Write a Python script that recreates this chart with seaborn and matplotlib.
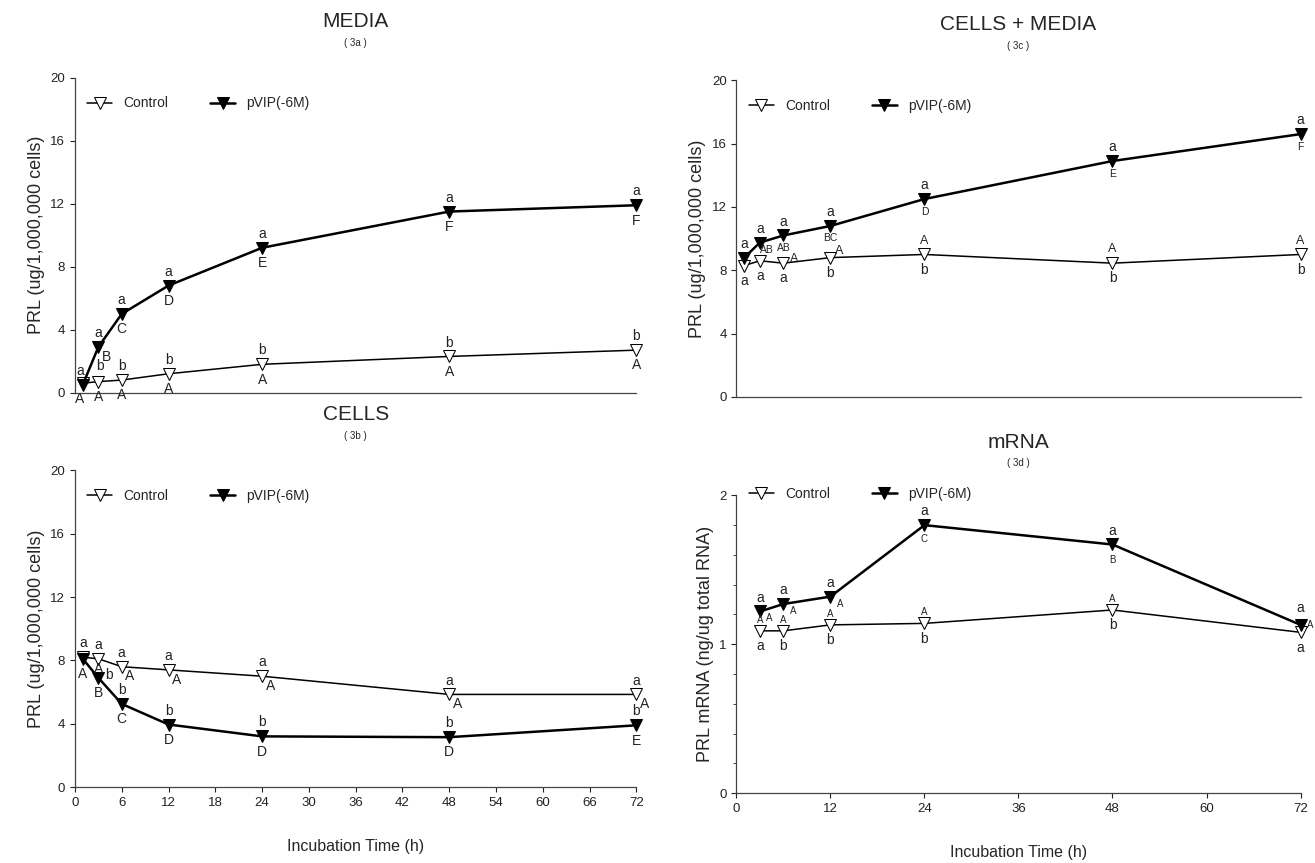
import numpy as np
import pandas as pd
import matplotlib
matplotlib.use("Agg")
import matplotlib.pyplot as plt
import seaborn as sns

# --- data ---
time = [1, 3, 6, 12, 24, 48, 72]
media_ctrl = [0.6, 0.7, 0.8, 1.2, 1.8, 2.3, 2.7]
media_vip = [0.5, 2.9, 5.0, 6.8, 9.2, 11.5, 11.9]
cells_ctrl = [8.2, 8.1, 7.6, 7.4, 7.0, 5.85, 5.85]
cells_vip = [8.1, 6.9, 5.25, 3.95, 3.2, 3.15, 3.9]
total_ctrl = [8.3, 8.6, 8.45, 8.8, 9.0, 8.45, 9.0]
total_vip = [8.8, 9.75, 10.2, 10.8, 12.5, 14.9, 16.6]
mrna_time = [3, 6, 12, 24, 48, 72]
mrna_ctrl = [1.09, 1.09, 1.13, 1.14, 1.23, 1.08]
mrna_vip = [1.22, 1.27, 1.32, 1.80, 1.67, 1.13]

# significance letters (above / below each point)
media_vip_top = ['a', 'a', 'a', 'a', 'a', 'a', 'a']
media_vip_bot = ['A', 'B', 'C', 'D', 'E', 'F', 'F']
media_ctrl_top = ['', 'b', 'b', 'b', 'b', 'b', 'b']
media_ctrl_bot = ['', 'A', 'A', 'A', 'A', 'A', 'A']
cells_ctrl_top = ['a', 'a', 'a', 'a', 'a', 'a', 'a']
cells_ctrl_bot = ['', 'A', 'A', 'A', 'A', 'A', 'A']
cells_vip_top = ['', 'b', 'b', 'b', 'b', 'b', 'b']
cells_vip_bot = ['A', 'B', 'C', 'D', 'D', 'D', 'E']
total_vip_top = ['a', 'a', 'a', 'a', 'a', 'a', 'a']
total_vip_bot = ['', 'AB', 'AB', 'BC', 'D', 'E', 'F']
total_ctrl_top = ['', '', 'A', 'A', 'A', 'A', 'A']
total_ctrl_bot = ['a', 'a', 'a', 'b', 'b', 'b', 'b']
mrna_vip_top = ['a', 'a', 'a', 'a', 'a', 'a']
mrna_vip_bot = ['A', 'A', 'A', 'C', 'B', 'A']
mrna_ctrl_top = ['A', 'A', 'A', 'A', 'A', '']
mrna_ctrl_bot = ['a', 'b', 'b', 'b', 'b', 'a']

sns.set_style("ticks")
plt.rcParams['font.family'] = ['Liberation Sans', 'DejaVu Sans']
plt.rcParams['axes.unicode_minus'] = False

fig = plt.figure(figsize=(13.15, 8.63), dpi=100)
ax_a = fig.add_axes([0.057, 0.545, 0.427, 0.365])
ax_b = fig.add_axes([0.057, 0.088, 0.427, 0.367])
ax_c = fig.add_axes([0.560, 0.540, 0.429, 0.367])
ax_d = fig.add_axes([0.560, 0.081, 0.429, 0.345])


def draw(ax, t, ctrl, vip, title, sub, ylabel, ymax, yticks):
    df = pd.DataFrame({'t': t, 'Control': ctrl, 'pVIP(-6M)': vip})
    sns.lineplot(data=df, x='t', y='Control', ax=ax, color='black', lw=1.1,
                 marker='v', markersize=9, markerfacecolor='white',
                 markeredgecolor='black', label='Control', clip_on=False)
    sns.lineplot(data=df, x='t', y='pVIP(-6M)', ax=ax, color='black', lw=1.8,
                 marker='v', markersize=9, markerfacecolor='black',
                 markeredgecolor='black', label='pVIP(-6M)', clip_on=False)
    ax.set_xlim(0, 72)
    ax.set_ylim(0, ymax)
    ax.set_yticks(yticks)
    ax.set_ylabel(ylabel, fontsize=13)
    ax.set_xlabel('')
    ax.tick_params(labelsize=9.5, colors='#222222')
    sns.despine(ax=ax)
    for s in ['left', 'bottom']:
        ax.spines[s].set_color('#444444')
        ax.spines[s].set_linewidth(0.9)
    ax.legend(loc='upper left', ncol=2, frameon=False, fontsize=10,
              handlelength=1.8, columnspacing=3.0, bbox_to_anchor=(0.0, 0.98))
    ax.text(0.5, 1.16, title, transform=ax.transAxes, ha='center', fontsize=15)
    ax.text(0.5, 1.10, sub, transform=ax.transAxes, ha='center', fontsize=7)


def letters(ax, t, y, labels, off, fs=10, special=None):
    special = special or {}
    for i, (x, v, txt) in enumerate(zip(t, y, labels)):
        if not txt:
            continue
        dx, dy = special.get(i, off)
        ax.annotate(txt, (x, v), xytext=(dx, dy), textcoords='offset points',
                    ha='center', va='center', fontsize=fs, color='#222222',
                    annotation_clip=False)


UP, DN = (0, 10), (0, -11)
ylab = 'PRL (ug/1,000,000 cells)'

draw(ax_a, time, media_ctrl, media_vip, 'MEDIA', '( 3a )', ylab, 20, [0, 4, 8, 12, 16, 20])
letters(ax_a, time, media_vip, media_vip_top, UP, special={0: (-2, 10)})
letters(ax_a, time, media_vip, media_vip_bot, DN, special={0: (-2, -10), 1: (6, -7)})
letters(ax_a, time, media_ctrl, media_ctrl_top, UP, special={1: (1, 11)})
letters(ax_a, time, media_ctrl, media_ctrl_bot, DN)

draw(ax_b, time, cells_ctrl, cells_vip, 'CELLS', '( 3b )', ylab, 20, [0, 4, 8, 12, 16, 20])
letters(ax_b, time, cells_ctrl, cells_ctrl_top, UP)
letters(ax_b, time, cells_ctrl, cells_ctrl_bot, (6, -7), special={1: (0, -7)})
letters(ax_b, time, cells_vip, cells_vip_top, UP, special={1: (8, 2)})
letters(ax_b, time, cells_vip, cells_vip_bot, DN)

draw(ax_c, time, total_ctrl, total_vip, 'CELLS + MEDIA', '( 3c )', ylab, 20, [0, 4, 8, 12, 16, 20])
letters(ax_c, time, total_vip, total_vip_top, UP)
letters(ax_c, time, total_vip, total_vip_bot, (0, -9), fs=7.5, special={1: (5, -5)})
letters(ax_c, time, total_ctrl, total_ctrl_top, UP, fs=9, special={2: (8, 3), 3: (6, 5)})
letters(ax_c, time, total_ctrl, total_ctrl_bot, DN)

draw(ax_d, mrna_time, mrna_ctrl, mrna_vip, 'mRNA', '( 3d )',
     'PRL mRNA (ng/ug total RNA)', 2, [0, 1, 2])
letters(ax_d, mrna_time, mrna_vip, mrna_vip_top, UP, special={5: (0, 12)})
letters(ax_d, mrna_time, mrna_vip, mrna_vip_bot, (7, -5), fs=7,
        special={3: (0, -10), 4: (0, -11), 5: (7, 0)})
letters(ax_d, mrna_time, mrna_ctrl, mrna_ctrl_top, (0, 8), fs=7)
letters(ax_d, mrna_time, mrna_ctrl, mrna_ctrl_bot, DN)

ax_a.set_xticks([])
ax_c.set_xticks([])
ax_b.set_xticks(np.arange(0, 73, 6))
ax_d.set_xticks(np.arange(0, 73, 12))
ax_d.set_yticks(np.arange(0, 2.01, 0.2), minor=True)
ax_d.legend(loc='upper left', ncol=2, frameon=False, fontsize=10,
            handlelength=1.8, columnspacing=3.0, bbox_to_anchor=(0.0, 1.07))
for ax in [ax_b, ax_d]:
    ax.set_xlabel('Incubation Time (h)', fontsize=11.5, labelpad=22)

fig.savefig('out.png', dpi=100)
